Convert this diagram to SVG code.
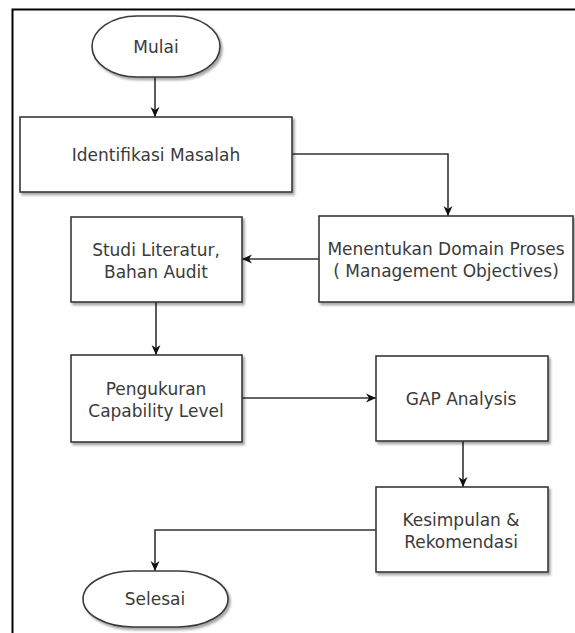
<svg xmlns="http://www.w3.org/2000/svg" width="575" height="633" viewBox="0 0 575 633">
<style>
.node{fill:#fff;stroke:#3a3a3a;stroke-width:1.6;filter:url(#sh)}
.lbl{font-family:"DejaVu Sans",Verdana,sans-serif;font-size:17px;fill:#3a3a3a;text-anchor:middle;dominant-baseline:central}
.edge{fill:none;stroke:#333;stroke-width:1.6;marker-end:url(#arr)}
</style>
<defs>
<filter id="sh" x="-10%" y="-10%" width="125%" height="130%">
<feDropShadow dx="2" dy="2.5" stdDeviation="1.2" flood-color="#000" flood-opacity="0.35"/>
</filter>
<marker id="arr" viewBox="0 0 10 10" refX="10" refY="5" markerWidth="10" markerHeight="10" orient="auto" markerUnits="userSpaceOnUse">
<path d="M0,0.5 L10,5 L0,9.5 L3,5 z" fill="#111"/>
</marker>
</defs>
<rect width="575" height="633" fill="#fff"/>
<path d="M12.5,633 V9.5 H575" fill="none" stroke="#000" stroke-width="2"/>
<g id="connectors">
<path class="edge" d="M155,77 V117"/>
<path class="edge" d="M292,154 H448 V216"/>
<path class="edge" d="M319,259 H242"/>
<path class="edge" d="M156,302 V355"/>
<path class="edge" d="M242,398 H376"/>
<path class="edge" d="M463,441 V487"/>
<path class="edge" d="M376,530 H155 V571"/>
</g>
<g id="mulai">
<rect class="node" x="92" y="16" width="128" height="61" rx="45" ry="30.5"/>
<text class="lbl" x="156" y="47">Mulai</text>
</g>
<g id="identifikasi">
<rect class="node" x="20" y="117" width="272" height="75"/>
<text class="lbl" x="156" y="155">Identifikasi Masalah</text>
</g>
<g id="menentukan">
<rect class="node" x="319" y="216" width="254" height="86"/>
<text class="lbl" x="446" y="249">Menentukan Domain Proses</text>
<text class="lbl" x="446" y="271">( Management Objectives)</text>
</g>
<g id="studi">
<rect class="node" x="71" y="217" width="171" height="85"/>
<text class="lbl" x="156" y="250">Studi Literatur,</text>
<text class="lbl" x="156" y="272">Bahan Audit</text>
</g>
<g id="pengukuran">
<rect class="node" x="71" y="355" width="171" height="87"/>
<text class="lbl" x="156" y="389">Pengukuran</text>
<text class="lbl" x="156" y="411">Capability Level</text>
</g>
<g id="gap">
<rect class="node" x="376" y="356" width="172" height="85"/>
<text class="lbl" x="461" y="399">GAP Analysis</text>
</g>
<g id="kesimpulan">
<rect class="node" x="376" y="487" width="172" height="85"/>
<text class="lbl" x="461" y="520">Kesimpulan &amp;</text>
<text class="lbl" x="461" y="542">Rekomendasi</text>
</g>
<g id="selesai">
<rect class="node" x="83" y="571" width="145" height="56" rx="50" ry="28"/>
<text class="lbl" x="155" y="599">Selesai</text>
</g>
</svg>
